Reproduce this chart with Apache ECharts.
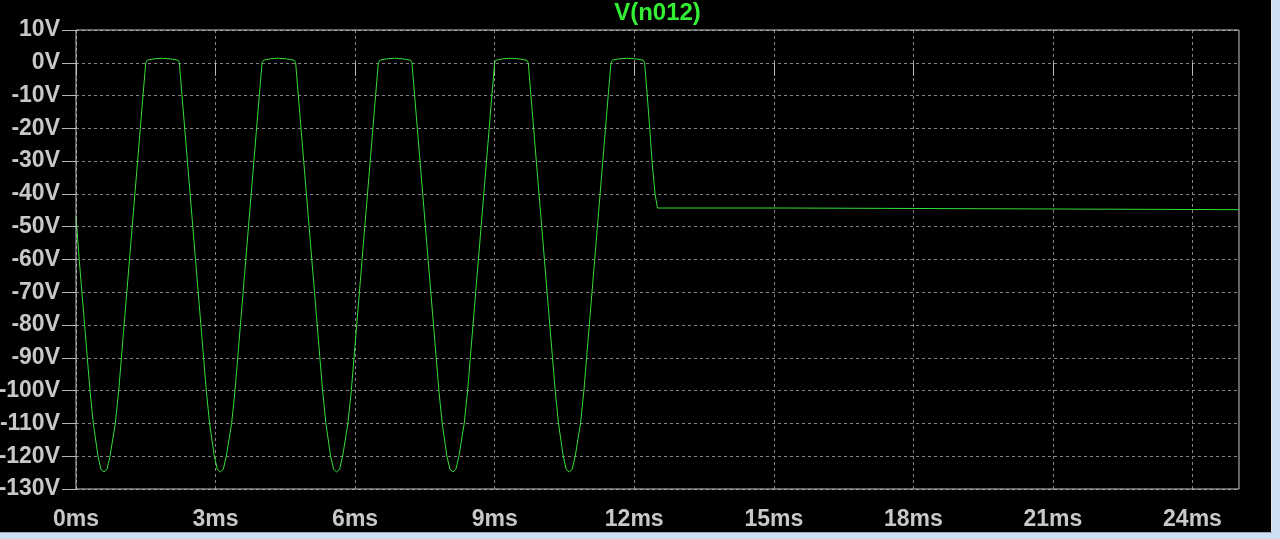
<!DOCTYPE html>
<html>
<head>
<meta charset="utf-8">
<script src="https://cdn.jsdelivr.net/npm/echarts@6/dist/echarts.min.js"></script>
<style>
html,body{margin:0;padding:0;background:#000;}
#chart{width:1280px;height:539px;}
</style>
</head>
<body>
<div id="chart"></div>
<script>
const titleText = 'V(n012)';
const xTicks = [0, 3, 6, 9, 12, 15, 18, 21, 24];
const yTicks = [10, 0, -10, -20, -30, -40, -50, -60, -70, -80, -90, -100, -110, -120, -130];

const cycle1 = [[0,-47],[0.069,-60],[0.127,-70],[0.185,-80],[0.243,-90],[0.301,-100],[0.372,-110],[0.473,-120],[0.538,-124],[0.602,-124.8],[0.666,-124],[0.731,-120],[0.845,-110],[0.918,-100],[0.976,-90],[1.034,-80],[1.092,-70],[1.150,-60],[1.208,-50],[1.266,-40],[1.324,-30],[1.382,-20],[1.440,-10],[1.500,0],[1.532,0.8],[1.676,1.2],[1.848,1.4],[2.020,1.2],[2.190,0.8],[2.222,0]];
const cycle2 = [[2.279,-10],[2.337,-20],[2.395,-30],[2.453,-40],[2.511,-50],[2.569,-60],[2.627,-70],[2.685,-80],[2.743,-90],[2.801,-100],[2.872,-110],[2.973,-120],[3.038,-124],[3.102,-124.8],[3.166,-124],[3.231,-120],[3.345,-110],[3.418,-100],[3.476,-90],[3.534,-80],[3.592,-70],[3.650,-60],[3.708,-50],[3.766,-40],[3.824,-30],[3.882,-20],[3.940,-10],[4.000,0],[4.032,0.8],[4.176,1.2],[4.348,1.4],[4.520,1.2],[4.690,0.8],[4.722,0]];
const cycle3 = [[4.779,-10],[4.837,-20],[4.895,-30],[4.953,-40],[5.011,-50],[5.069,-60],[5.127,-70],[5.185,-80],[5.243,-90],[5.301,-100],[5.372,-110],[5.473,-120],[5.538,-124],[5.602,-124.8],[5.666,-124],[5.731,-120],[5.845,-110],[5.918,-100],[5.976,-90],[6.034,-80],[6.092,-70],[6.150,-60],[6.208,-50],[6.266,-40],[6.324,-30],[6.382,-20],[6.440,-10],[6.500,0],[6.532,0.8],[6.676,1.2],[6.848,1.4],[7.020,1.2],[7.190,0.8],[7.222,0]];
const cycle4 = [[7.279,-10],[7.337,-20],[7.395,-30],[7.453,-40],[7.511,-50],[7.569,-60],[7.627,-70],[7.685,-80],[7.743,-90],[7.801,-100],[7.872,-110],[7.973,-120],[8.038,-124],[8.102,-124.8],[8.166,-124],[8.231,-120],[8.345,-110],[8.418,-100],[8.476,-90],[8.534,-80],[8.592,-70],[8.650,-60],[8.708,-50],[8.766,-40],[8.824,-30],[8.882,-20],[8.940,-10],[9.000,0],[9.032,0.8],[9.176,1.2],[9.348,1.4],[9.520,1.2],[9.690,0.8],[9.722,0]];
const cycle5 = [[9.779,-10],[9.837,-20],[9.895,-30],[9.953,-40],[10.011,-50],[10.069,-60],[10.127,-70],[10.185,-80],[10.243,-90],[10.301,-100],[10.372,-110],[10.473,-120],[10.538,-124],[10.602,-124.8],[10.666,-124],[10.731,-120],[10.845,-110],[10.918,-100],[10.976,-90],[11.034,-80],[11.092,-70],[11.150,-60],[11.208,-50],[11.266,-40],[11.324,-30],[11.382,-20],[11.440,-10],[11.500,0],[11.532,0.8],[11.676,1.2],[11.848,1.4],[12.020,1.2],[12.190,0.8],[12.222,0]];
const tail = [[12.280,-10],[12.333,-20],[12.383,-30],[12.447,-40],[12.499,-44.3],[15.30,-44.3],[15.32,-44.8],[25,-44.8]];

const trace = [].concat(cycle1, cycle2, cycle3, cycle4, cycle5, tail);

const labelColor = '#c8c8c8';
const gridColor = '#858585';
const borderColor = '#c8c8c8';
const green = '#33e033';

const chart = echarts.init(document.getElementById('chart'), null, {renderer: 'canvas'});
chart.setOption({
  backgroundColor: '#000000',
  animation: false,
  title: {
    text: titleText,
    left: 657.5,
    top: 1,
    padding: 0,
    textAlign: 'center',
    textStyle: {color: '#33ee33', fontSize: 24, fontWeight: 'bold', fontFamily: 'Liberation Sans'}
  },
  grid: {
    left: 76, right: 41, top: 30, bottom: 50,
    outerBoundsMode: 'none',
    show: true,
    z: 5,
    borderColor: borderColor,
    borderWidth: 1,
    backgroundColor: 'transparent'
  },
  xAxis: {
    type: 'value',
    min: 0, max: 25, interval: 3,
    axisLine: {show: false},
    axisTick: {show: true, length: 13, inside: false, customValues: xTicks, lineStyle: {color: '#b8b8b8', width: 1}},
    axisLabel: {
      customValues: xTicks,
      formatter: v => v + 'ms',
      color: labelColor, fontSize: 23, fontWeight: 'bold', fontFamily: 'Liberation Sans',
      margin: 19
    },
    splitLine: {show: true, lineStyle: {color: gridColor, type: [3, 3], width: 1}}
  },
  yAxis: {
    type: 'value',
    min: -130, max: 10, interval: 10,
    axisLine: {show: false},
    axisTick: {show: true, length: 14, inside: false, customValues: yTicks, lineStyle: {color: '#b8b8b8', width: 1}},
    axisLabel: {
      customValues: yTicks,
      formatter: v => v + 'V',
      color: labelColor, fontSize: 23, fontWeight: 'bold', fontFamily: 'Liberation Sans',
      margin: 16
    },
    splitLine: {show: true, lineStyle: {color: gridColor, type: [3, 3], width: 1}}
  },
  graphic: [
    {type: 'rect', left: 1272, top: 0, shape: {width: 8, height: 539}, style: {fill: '#cddff2'}, z: 100},
    {type: 'rect', left: 1271, top: 0, shape: {width: 1, height: 539}, style: {fill: '#e6e6e6'}, z: 100},
    {type: 'rect', left: 0, top: 533, shape: {width: 1280, height: 6}, style: {fill: '#cddff2'}, z: 100},
    {type: 'rect', left: 0, top: 532, shape: {width: 1272, height: 1}, style: {fill: '#9aa8b8'}, z: 100}
  ],
  series: [{
    type: 'line',
    data: trace,
    showSymbol: false,
    symbol: 'none',
    smooth: false,
    sampling: 'none',
    clip: true,
    lineStyle: {color: green, width: 1},
    z: 3
  }]
});
</script>
</body>
</html>
